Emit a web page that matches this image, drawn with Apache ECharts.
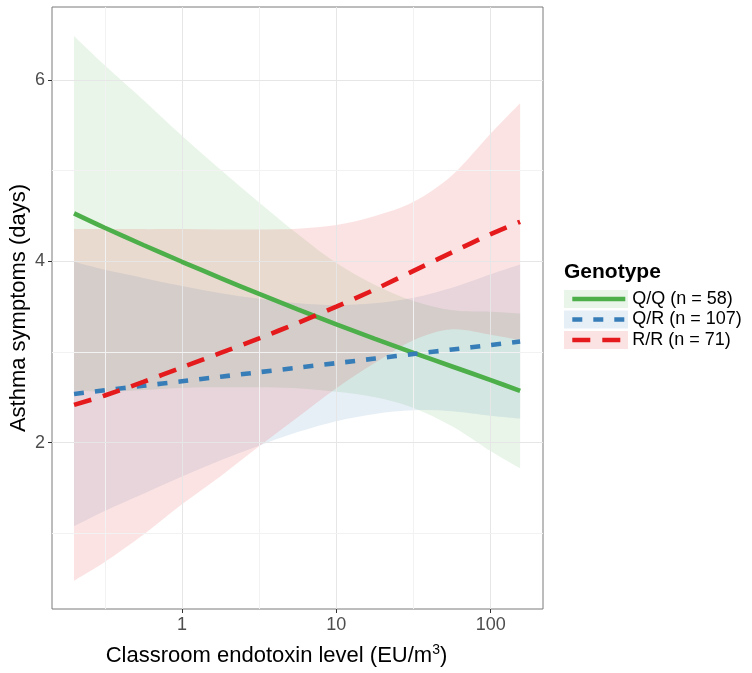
<!DOCTYPE html>
<html>
<head>
<meta charset="utf-8">
<script src="https://cdn.jsdelivr.net/npm/echarts@6/dist/echarts.min.js"></script>
<style>
html,body{margin:0;padding:0;background:#fff;}
#chart{width:752px;height:673px;}
</style>
</head>
<body>
<div id="chart"></div>
<script>
// Endotoxin level (EU/m3) at which the fitted curves and bands were read
const endotoxin = [0.2, 0.316, 0.562, 1, 1.78, 3.16, 5.62, 10, 17.8, 31.6, 56.2, 100, 155];

// Q/Q (n = 58)
const qqFit  = [4.529, 4.37, 4.18, 3.995, 3.815, 3.64, 3.47, 3.305, 3.145, 2.99, 2.84, 2.69, 2.571];
const qqLow  = [2.572, 2.563, 2.58, 2.605, 2.61, 2.61, 2.60, 2.56, 2.50, 2.383, 2.18, 1.905, 1.717];
const qqHigh = [6.486, 6.163, 5.78, 5.385, 5.01, 4.65, 4.30, 3.98, 3.74, 3.563, 3.46, 3.445, 3.425];

// Q/R (n = 107)
const qrFit  = [2.537, 2.577, 2.627, 2.677, 2.727, 2.777, 2.827, 2.877, 2.927, 2.977, 3.027, 3.077, 3.115];
const qrLow  = [1.079, 1.247, 1.437, 1.627, 1.807, 1.967, 2.117, 2.237, 2.317, 2.357, 2.347, 2.297, 2.265];
const qrHigh = [3.995, 3.907, 3.817, 3.727, 3.647, 3.587, 3.537, 3.517, 3.537, 3.597, 3.707, 3.857, 3.965];

// R/R (n = 71)
const rrFit  = [2.416, 2.52, 2.67, 2.83, 2.99, 3.15, 3.32, 3.50, 3.69, 3.895, 4.10, 4.30, 4.436];
const rrLow  = [0.477, 0.684, 0.985, 1.32, 1.63, 1.96, 2.28, 2.60, 2.88, 3.13, 3.25, 3.19, 3.13];
const rrHigh = [4.356, 4.356, 4.355, 4.355, 4.352, 4.352, 4.36, 4.40, 4.50, 4.657, 4.95, 5.41, 5.743];

const groupNames = ['Q/Q (n = 58)', 'Q/R (n = 107)', 'R/R (n = 71)'];
const xTicks = [1, 10, 100];
const xMinorGrid = [0.316, 3.16, 31.6];
const yTicks = [2, 4, 6];
const yMinorGrid = [1, 3, 5];

const colors = ['#4DAF4A', '#377EB8', '#E41A1C'];
const bandFill = ['rgba(77,175,74,0.12)', 'rgba(55,126,184,0.12)', 'rgba(228,26,28,0.12)'];
const FONT = '"Liberation Sans", Arial, Helvetica, sans-serif';

const groups = [
  {fit: qqFit, low: qqLow, high: qqHigh, dash: 'solid'},
  {fit: qrFit, low: qrLow, high: qrHigh, dash: [10, 11]},
  {fit: rrFit, low: rrLow, high: rrHigh, dash: [18, 12]}
];

// Catmull-Rom curve through screen points, as SVG path segments
function curveThrough(p, first) {
  let d = (first ? 'M' : 'L') + p[0][0] + ',' + p[0][1];
  for (let i = 0; i < p.length - 1; i++) {
    const p0 = p[i - 1] || p[i], p1 = p[i], p2 = p[i + 1], p3 = p[i + 2] || p[i + 1];
    const c1 = [p1[0] + (p2[0] - p0[0]) / 6, p1[1] + (p2[1] - p0[1]) / 6];
    const c2 = [p2[0] - (p3[0] - p1[0]) / 6, p2[1] - (p3[1] - p1[1]) / 6];
    d += 'C' + c1[0] + ',' + c1[1] + ' ' + c2[0] + ',' + c2[1] + ' ' + p2[0] + ',' + p2[1];
  }
  return d;
}

function bandSeries(g, i) {
  return {
    type: 'custom',
    name: groupNames[i] + ' band',
    z: 2,
    silent: true,
    clip: true,
    data: [0],
    renderItem: function (params, api) {
      const up = endotoxin.map((x, k) => api.coord([x, g.high[k]]));
      const lo = endotoxin.map((x, k) => api.coord([x, g.low[k]])).reverse();
      const d = curveThrough(up, true) + curveThrough(lo, false) + 'Z';
      return {type: 'path', shape: {pathData: d}, style: {fill: bandFill[i], stroke: null}};
    }
  };
}

function lineSeries(g, i) {
  return {
    type: 'line',
    name: groupNames[i],
    z: 5,
    symbol: 'none',
    showSymbol: false,
    silent: true,
    smooth: 0.3,
    color: colors[i],
    lineStyle: {color: colors[i], width: 4.6, type: g.dash, cap: 'butt'},
    data: endotoxin.map((x, k) => [x, g.fit[k]])
  };
}

const gridMarks = [];
xTicks.forEach(v => gridMarks.push({xAxis: v, lineStyle: {color: '#E6E6E6', width: 1, type: 'solid'}}));
xMinorGrid.forEach(v => gridMarks.push({xAxis: v, lineStyle: {color: '#F2F2F2', width: 1, type: 'solid'}}));
yTicks.forEach(v => gridMarks.push({yAxis: v, lineStyle: {color: '#E6E6E6', width: 1, type: 'solid'}}));
yMinorGrid.forEach(v => gridMarks.push({yAxis: v, lineStyle: {color: '#F2F2F2', width: 1, type: 'solid'}}));

const series = [{
  type: 'line', name: 'grid', z: 1, silent: true, data: [], symbol: 'none',
  markLine: {silent: true, symbol: 'none', label: {show: false}, animation: false, data: gridMarks}
}];
groups.forEach((g, i) => series.push(bandSeries(g, i)));
groups.forEach((g, i) => series.push(lineSeries(g, i)));

const chart = echarts.init(document.getElementById('chart'), null, {renderer: 'canvas'});
chart.setOption({
  animation: false,
  backgroundColor: '#fff',
  textStyle: {fontFamily: FONT},
  grid: {left: 52, right: 209, top: 7, bottom: 64, show: true, borderColor: '#7a7a7a', borderWidth: 1,
    backgroundColor: 'transparent', containLabel: false, outerBoundsMode: 'none'},
  title: {text: 'Genotype', left: 564, top: 262, padding: 0,
    textStyle: {fontFamily: FONT, fontSize: 21, fontWeight: 'bold', color: '#000'}},
  legend: {
    data: groupNames, orient: 'vertical', left: 570, top: 290, padding: 0,
    itemWidth: 53, itemHeight: 18, itemGap: 2.5, selectedMode: false,
    itemStyle: {color: 'transparent', borderColor: 'transparent', borderWidth: 0, opacity: 0},
    lineStyle: {width: 4.6},
    textStyle: {fontFamily: FONT, fontSize: 18, color: '#000', padding: [0, 0, 0, 2]}
  },
  graphic: [
    {type: 'rect', shape: {x: 564, y: 290, width: 64, height: 18}, style: {fill: bandFill[0]}, z: 0, silent: true},
    {type: 'rect', shape: {x: 564, y: 310.5, width: 64, height: 18}, style: {fill: bandFill[1]}, z: 0, silent: true},
    {type: 'rect', shape: {x: 564, y: 331, width: 64, height: 18}, style: {fill: bandFill[2]}, z: 0, silent: true}
  ],
  xAxis: {
    type: 'log', logBase: 10, min: 0.144, max: 218,
    name: 'Classroom endotoxin level (EU/m{sup|3})',
    nameLocation: 'middle', nameGap: 34, nameMoveOverlap: false,
    nameTextStyle: {fontFamily: FONT, fontSize: 22, color: '#000', padding: [0, 42, 0, 0],
      rich: {sup: {fontSize: 14, verticalAlign: 'top', padding: [0, 0, 12, 0], fontFamily: FONT, color: '#000'}}},
    axisLine: {show: false},
    axisTick: {show: true, length: 4, lineStyle: {color: '#333', width: 1}, customValues: xTicks},
    axisLabel: {show: true, fontSize: 18, color: '#4D4D4D', margin: 7, fontFamily: FONT, customValues: xTicks,
      formatter: v => String(Math.round(v))},
    splitLine: {show: false}, minorTick: {show: false}
  },
  yAxis: {
    type: 'value', min: 0.165, max: 6.805,
    name: 'Asthma symptoms (days)', nameLocation: 'middle', nameGap: 22, nameMoveOverlap: false,
    nameTextStyle: {fontFamily: FONT, fontSize: 22, color: '#000', verticalAlign: 'bottom'},
    axisLine: {show: false},
    axisTick: {show: true, length: 4, lineStyle: {color: '#333', width: 1}, customValues: yTicks},
    axisLabel: {show: true, fontSize: 18, color: '#4D4D4D', margin: 7, fontFamily: FONT, customValues: yTicks},
    splitLine: {show: false}
  },
  series: series
});
</script>
</body>
</html>
